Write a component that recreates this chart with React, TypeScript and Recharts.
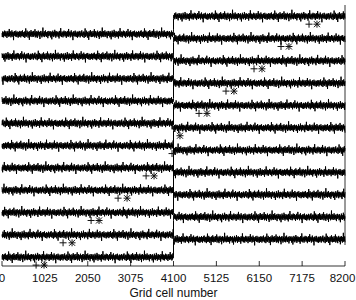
import { ComposedChart, Line, Scatter, XAxis, YAxis, ReferenceLine } from 'recharts';

const X_TICKS = [0, 1025, 2050, 3075, 4100, 5125, 6150, 7175, 8200];
const SPLIT = 4100;
const X_MAX = 8200;

// baseline of each trace, left half and right half (bottom trace first)
const LEFT_LEVELS = [0.4, 1.4, 2.4, 3.4, 4.4, 5.4, 6.4, 7.4, 8.4, 9.4, 10.4];
const RIGHT_LEVELS = [1.2, 2.2, 3.2, 4.2, 5.2, 6.2, 7.2, 8.2, 9.2, 10.2, 11.2];

// fluctuation around the baseline
const NOISE = [
  0.06, -0.09, 0.11, -0.04, 0.08, -0.12, 0.03, -0.07, 0.10, -0.05,
  0.13, -0.08, 0.02, -0.11, 0.07, -0.03, 0.09, -0.14, 0.05, -0.06,
  0.20, -0.10, 0.04, -0.08, 0.12, -0.02, 0.06, -0.13, 0.08, -0.05,
  0.03, -0.21, 0.10, -0.07, 0.05, -0.09, 0.14, -0.04, 0.07, -0.11,
  0.09, -0.06, 0.02, -0.10, 0.11, -0.08, 0.04, -0.03, 0.17, -0.12,
  0.06, -0.05, 0.10, -0.09, 0.03, -0.14, 0.08, -0.06, 0.12, -0.02,
  0.05, -0.10, 0.07, -0.18, 0.09, -0.04, 0.11, -0.07, 0.02, -0.12,
  0.08, -0.05, 0.23, -0.09, 0.04, -0.06, 0.10, -0.11, 0.06, -0.03,
  0.13, -0.08, 0.05, -0.10, 0.07, -0.04, 0.09, -0.15, 0.03, -0.07,
  0.11, -0.06, 0.08, -0.02, 0.04, -0.12, 0.10, -0.09, 0.06, -0.19,
  0.02, -0.05, 0.12, -0.08, 0.07, -0.11, 0.05, -0.04, 0.15, -0.07,
  0.09, -0.13, 0.03, -0.06, 0.10, -0.09, 0.06, -0.02, 0.08, -0.10,
  0.04, -0.16, 0.11, -0.05, 0.07, -0.08, 0.21, -0.06, 0.03, -0.11,
  0.09, -0.04, 0.05, -0.12, 0.08, -0.07, 0.12, -0.03, 0.06, -0.09,
  0.10, -0.06, 0.02, -0.14, 0.07, -0.05, 0.11, -0.08, 0.04, -0.10,
  0.18, -0.07, 0.06, -0.03, 0.09, -0.12, 0.05, -0.08, 0.13, -0.04,
  0.07, -0.10, 0.03, -0.22, 0.08, -0.06, 0.10, -0.05, 0.04, -0.09,
  0.12, -0.07, 0.06, -0.11, 0.02, -0.04, 0.09, -0.13, 0.07, -0.08,
];
const SEG_OFFSETS = [0, 97, 41, 133, 12, 150, 66, 25, 119, 58, 171, 83, 7, 142, 36, 104, 160, 49, 90, 17, 128, 73];

// marker positions ("+" and "*") under each trace
const PLUS_X = [815, 1460, 2130, 2775, 3445, 4065, 4710, 5355, 6025, 6670, 7340];
const PLUS_Y = [0.04, 1.04, 2.04, 3.04, 4.04, 5.04, 6.84, 7.84, 8.84, 9.84, 10.84];
const STAR_X = [1005, 1675, 2320, 2990, 3635, 4255, 4900, 5545, 6215, 6860, 7530];
const STAR_Y = [0.04, 1.04, 2.04, 3.04, 4.04, 5.84, 6.84, 7.84, 8.84, 9.84, 10.84];

const STEPS = 520;
const NOISE_SCALE = 1.25;
const FONT = '"Liberation Sans", Arial, sans-serif';

function segment(level: number, offset: number, from: number, to: number) {
  const pts = [];
  for (let i = 0; i <= STEPS; i++) {
    pts.push({
      x: from + ((to - from) * i) / STEPS,
      y: level + NOISE_SCALE * NOISE[(offset + i) % NOISE.length],
    });
  }
  return pts;
}

const traces = LEFT_LEVELS.map((lv, k) => [
  ...segment(lv, SEG_OFFSETS[2 * k], 0, SPLIT),
  ...segment(RIGHT_LEVELS[k], SEG_OFFSETS[2 * k + 1], SPLIT, X_MAX),
]);
const plusData = PLUS_X.map((x, i) => ({ x, y: PLUS_Y[i] }));
const starData = STAR_X.map((x, i) => ({ x, y: STAR_Y[i] }));

const BottomTick = ({ x, y, payload }: any) => (
  <g>
    <line x1={x} x2={x} y1={y} y2={y - 5} stroke="#000" strokeWidth={0.8} />
    <text
      x={payload.value === X_MAX ? x - 2.5 : x}
      y={y + 16}
      textAnchor="middle"
      fontSize={11.5}
      fill="#111"
      fontFamily={FONT}
    >
      {payload.value}
    </text>
  </g>
);

const TopTick = ({ x, y }: any) => <line x1={x} x2={x} y1={y} y2={y + 5} stroke="#000" strokeWidth={0.8} />;

const Plus = ({ cx, cy }: any) => (
  <g stroke="#111" strokeWidth={1}>
    <line x1={cx - 3.5} x2={cx + 3.5} y1={cy} y2={cy} />
    <line x1={cx} x2={cx} y1={cy - 3.5} y2={cy + 3.5} />
  </g>
);

const Star = ({ cx, cy }: any) => (
  <g stroke="#111" strokeWidth={1}>
    <line x1={cx - 3.5} x2={cx + 3.5} y1={cy} y2={cy} />
    <line x1={cx} x2={cx} y1={cy - 3.5} y2={cy + 3.5} />
    <line x1={cx - 3} x2={cx + 3} y1={cy - 3} y2={cy + 3} />
    <line x1={cx - 3} x2={cx + 3} y1={cy + 3} y2={cy - 3} />
  </g>
);

export default function App() {
  return (
    <div style={{ position: 'absolute', left: 0, top: 0, background: '#fff' }}>
      <ComposedChart width={356} height={300} margin={{ top: 5, right: 11, left: 2, bottom: 4 }}>
        <XAxis
          dataKey="x"
          type="number"
          domain={[0, X_MAX]}
          ticks={X_TICKS}
          interval={0}
          height={30}
          tickSize={0}
          tickMargin={0}
          tickLine={false}
          axisLine={{ stroke: '#000', strokeWidth: 0.8 }}
          tick={<BottomTick />}
          label={{
            content: ({ viewBox }: any) => (
              <text x={viewBox.x + viewBox.width / 2} y={297} textAnchor="middle" fontSize={12} fill="#111" fontFamily={FONT}>
                Grid cell number
              </text>
            ),
          }}
        />
        <XAxis
          xAxisId="top"
          orientation="top"
          dataKey="x"
          type="number"
          domain={[0, X_MAX]}
          ticks={X_TICKS}
          interval={0}
          height={0}
          tickSize={0}
          tickMargin={0}
          tickLine={false}
          axisLine={{ stroke: '#000', strokeWidth: 0.8 }}
          tick={<TopTick />}
        />
        <YAxis dataKey="y" type="number" domain={[0, 11.7]} hide />
        <ReferenceLine
          segment={[{ x: X_MAX, y: 0.94 }, { x: X_MAX, y: 11.7 }]}
          stroke="#000"
          strokeWidth={0.8}
          ifOverflow="visible"
        />
        {traces.map((data, k) => (
          <Line
            key={k}
            data={data}
            dataKey="y"
            type="linear"
            stroke="#000"
            strokeWidth={1}
            dot={false}
            activeDot={false}
            isAnimationActive={false}
          />
        ))}
        <Scatter data={plusData} dataKey="y" shape={<Plus />} isAnimationActive={false} />
        <Scatter data={starData} dataKey="y" shape={<Star />} isAnimationActive={false} />
      </ComposedChart>
    </div>
  );
}
